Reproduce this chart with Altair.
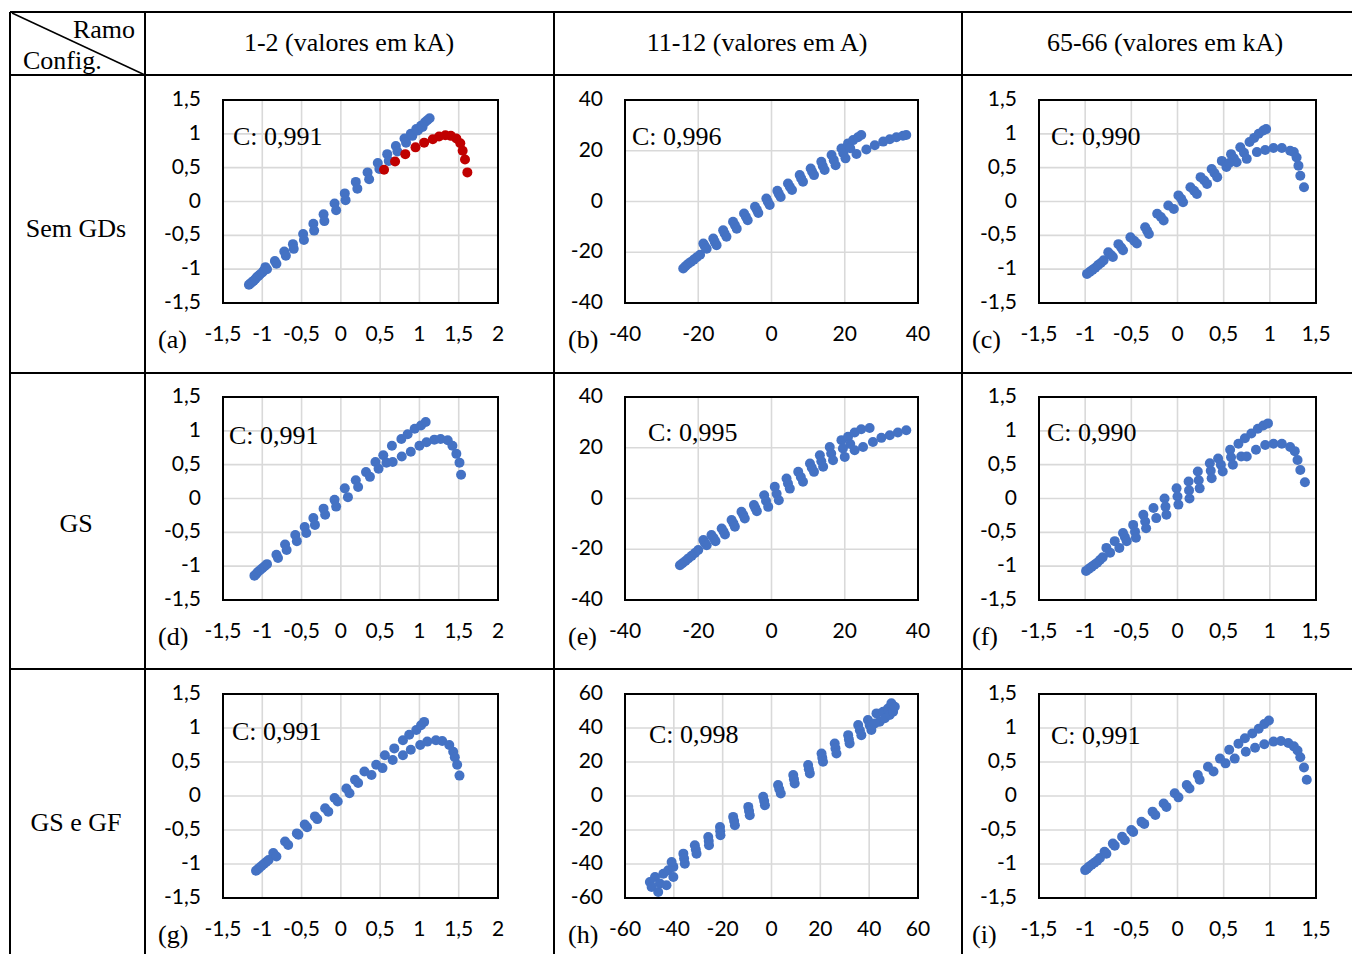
import altair as alt
import pandas as pd

# ---------------- data ----------------
COL_HEADERS = ["1-2 (valores em kA)", "11-12 (valores em A)", "65-66 (valores em kA)"]
ROW_HEADERS = ["Sem GDs", "GS", "GS e GF"]
CORNER_TOP = "Ramo"
CORNER_BOTTOM = "Config."
LETTERS = ["(a)", "(b)", "(c)", "(d)", "(e)", "(f)", "(g)", "(h)", "(i)"]
CORR = ["C: 0,991", "C: 0,996", "C: 0,990",
        "C: 0,991", "C: 0,995", "C: 0,990",
        "C: 0,991", "C: 0,998", "C: 0,991"]

TICKS_2 = [-1.5, -1, -0.5, 0, 0.5, 1, 1.5, 2]
LABELS_2 = ["-1,5", "-1", "-0,5", "0", "0,5", "1", "1,5", "2"]
TICKS_15 = [-1.5, -1, -0.5, 0, 0.5, 1, 1.5]
LABELS_15 = ["-1,5", "-1", "-0,5", "0", "0,5", "1", "1,5"]
TICKS_40 = [-40, -20, 0, 20, 40]
LABELS_40 = ["-40", "-20", "0", "20", "40"]
TICKS_60 = [-60, -40, -20, 0, 20, 40, 60]
LABELS_60 = ["-60", "-40", "-20", "0", "20", "40", "60"]

A_BLUE = [(-1.17, -1.23), (-1.15, -1.21), (-1.13, -1.19), (-1.11, -1.17), (-1.09, -1.15),
          (-1.07, -1.12), (-1.05, -1.10), (-1.03, -1.08), (-1.0, -1.05), (-0.98, -1.02),
          (-0.96, -0.97), (-0.94, -1.0), (-0.84, -0.88), (-0.82, -0.92), (-0.72, -0.74),
          (-0.70, -0.80), (-0.61, -0.63), (-0.60, -0.70), (-0.48, -0.48), (-0.47, -0.57),
          (-0.35, -0.33), (-0.34, -0.43), (-0.22, -0.19), (-0.21, -0.29), (-0.08, -0.03),
          (-0.06, -0.13), (0.05, 0.12), (0.06, 0.02), (0.19, 0.29), (0.21, 0.19),
          (0.34, 0.43), (0.36, 0.33), (0.47, 0.57), (0.49, 0.48), (0.59, 0.70),
          (0.61, 0.60), (0.70, 0.82), (0.72, 0.74), (0.81, 0.93), (0.83, 0.87),
          (0.89, 1.0), (0.91, 0.97), (0.96, 1.07), (0.98, 1.05), (1.02, 1.12),
          (1.04, 1.10), (1.07, 1.17), (1.10, 1.20), (1.13, 1.23)]
A_RED = [(0.55, 0.47), (0.69, 0.59), (0.82, 0.70), (0.95, 0.80), (1.06, 0.87), (1.17, 0.92),
         (1.25, 0.96), (1.33, 0.98), (1.40, 0.97), (1.47, 0.93), (1.52, 0.86), (1.55, 0.75),
         (1.58, 0.62), (1.61, 0.43)]

B_BLUE = [(-24.1, -26.4), (-23.5, -25.5), (-22.8, -24.6), (-22.0, -23.8), (-21.2, -22.9),
          (-20.4, -22.0), (-19.5, -21.0), (-18.6, -16.6), (-18.2, -17.6), (-17.7, -18.6),
          (-15.9, -14.6), (-15.5, -15.9), (-15.0, -17.2), (-13.2, -11.3), (-12.8, -12.6),
          (-12.3, -13.9), (-10.5, -8.0), (-10.0, -9.3), (-9.5, -10.7), (-7.5, -4.7),
          (-7.0, -6.0), (-6.5, -7.4), (-4.5, -2.1), (-4.0, -3.3), (-3.6, -4.5), (-1.4, 1.2),
          (-1.0, -0.1), (-0.5, -1.4), (1.6, 4.2), (2.0, 3.0), (2.5, 1.8), (4.5, 7.1),
          (5.0, 5.8), (5.6, 4.5), (7.7, 10.4), (8.1, 9.1), (8.6, 7.8), (10.7, 13.0),
          (11.1, 11.7), (11.6, 10.4), (13.6, 15.7), (14.0, 14.0), (14.5, 12.4), (16.4, 18.3),
          (17.0, 16.3), (17.5, 14.3), (19.1, 20.9), (19.6, 19.0), (20.2, 17.0), (20.9, 22.9),
          (21.5, 21.0), (22.3, 24.2), (23.6, 25.3), (24.5, 26.2), (23.2, 18.7), (25.9, 20.5),
          (28.2, 22.2), (30.5, 23.6), (32.3, 24.5), (34.1, 25.3), (35.9, 25.9), (36.8, 26.2)]

C_BLUE = [(-0.98, -1.07), (-0.95, -1.04), (-0.92, -1.01), (-0.89, -0.98), (-0.86, -0.94),
          (-0.83, -0.91), (-0.80, -0.87), (-0.75, -0.75), (-0.72, -0.79), (-0.70, -0.82),
          (-0.64, -0.63), (-0.61, -0.68), (-0.59, -0.72), (-0.51, -0.53), (-0.47, -0.58),
          (-0.44, -0.62), (-0.35, -0.38), (-0.33, -0.43), (-0.31, -0.48), (-0.22, -0.18),
          (-0.18, -0.23), (-0.15, -0.28), (-0.10, -0.06), (-0.04, -0.11), (0.01, 0.09),
          (0.04, 0.04), (0.06, -0.01), (0.14, 0.21), (0.18, 0.16), (0.21, 0.11), (0.25, 0.36),
          (0.29, 0.31), (0.32, 0.26), (0.37, 0.48), (0.40, 0.42), (0.43, 0.36), (0.48, 0.60),
          (0.53, 0.51), (0.58, 0.70), (0.61, 0.64), (0.64, 0.58), (0.56, 0.57), (0.68, 0.80),
          (0.72, 0.72), (0.75, 0.63), (0.78, 0.88), (0.83, 0.94), (0.88, 1.0), (0.93, 1.05),
          (0.96, 1.07), (0.86, 0.73), (0.95, 0.76), (1.04, 0.79), (1.13, 0.79), (1.22, 0.75),
          (1.26, 0.73), (1.29, 0.65), (1.31, 0.53), (1.33, 0.38), (1.37, 0.21)]

D_BLUE = [(-1.10, -1.14), (-1.08, -1.12), (-1.06, -1.09), (-1.03, -1.06), (-1.00, -1.03),
          (-0.97, -1.00), (-0.94, -0.97), (-0.82, -0.83), (-0.80, -0.88), (-0.71, -0.68),
          (-0.69, -0.76), (-0.58, -0.54), (-0.56, -0.63), (-0.46, -0.42), (-0.44, -0.51),
          (-0.35, -0.29), (-0.33, -0.39), (-0.22, -0.15), (-0.20, -0.24), (-0.08, -0.02),
          (-0.06, -0.12), (0.05, 0.15), (0.09, 0.02), (0.19, 0.27), (0.22, 0.17), (0.32, 0.39),
          (0.37, 0.32), (0.44, 0.54), (0.48, 0.44), (0.54, 0.64), (0.58, 0.53), (0.65, 0.78),
          (0.66, 0.54), (0.77, 0.88), (0.85, 0.95), (0.94, 1.03), (1.02, 1.08), (1.08, 1.13),
          (0.775, 0.62), (0.89, 0.69), (1.0, 0.78), (1.09, 0.83), (1.19, 0.87), (1.27, 0.88),
          (1.36, 0.86), (1.42, 0.78), (1.47, 0.66), (1.51, 0.53), (1.53, 0.35)]

E_BLUE = [(-25.0, -26.3), (-24.3, -25.5), (-23.5, -24.6), (-22.7, -23.6), (-21.8, -22.6),
          (-20.9, -21.5), (-20.0, -20.3), (-18.6, -16.4), (-18.2, -17.4), (-17.7, -18.4),
          (-16.4, -14.4), (-15.8, -15.6), (-15.3, -16.8), (-13.6, -11.8), (-13.1, -13.0),
          (-12.7, -14.2), (-10.9, -8.5), (-10.4, -9.8), (-10.0, -11.1), (-8.2, -5.2),
          (-7.7, -6.5), (-7.3, -7.9), (-4.8, -2.6), (-4.4, -3.8), (-4.0, -5.0), (-2.0, 1.3),
          (-1.5, -1.0), (-0.9, -3.3), (0.9, 4.6), (1.4, 1.9), (2.0, -0.7), (4.1, 7.9),
          (4.5, 5.9), (5.0, 3.9), (7.3, 10.5), (8.0, 8.5), (8.6, 6.6), (10.5, 13.8),
          (11.0, 12.1), (11.6, 10.5), (13.2, 17.0), (13.6, 14.7), (14.1, 12.5), (15.9, 20.3),
          (16.3, 17.7), (16.8, 15.1), (19.1, 23.0), (19.5, 19.7), (20.0, 16.4), (20.9, 24.3),
          (21.5, 21.5), (22.7, 26.0), (24.5, 27.3), (26.8, 27.8), (22.7, 19.0), (25.0, 20.3),
          (27.7, 22.3), (30.0, 23.9), (32.3, 24.9), (34.5, 26.0), (36.8, 26.9)]

F_BLUE = [(-0.99, -1.07), (-0.96, -1.04), (-0.93, -1.01), (-0.90, -0.98), (-0.87, -0.95),
          (-0.84, -0.91), (-0.81, -0.87), (-0.77, -0.73), (-0.73, -0.80), (-0.68, -0.63),
          (-0.63, -0.73), (-0.59, -0.51), (-0.57, -0.57), (-0.55, -0.63), (-0.48, -0.39),
          (-0.46, -0.49), (-0.45, -0.58), (-0.37, -0.24), (-0.35, -0.34), (-0.34, -0.44),
          (-0.26, -0.14), (-0.23, -0.29), (-0.14, 0.0), (-0.13, -0.12), (-0.12, -0.24),
          (-0.01, 0.15), (0.0, 0.03), (0.01, -0.09), (0.12, 0.25), (0.125, 0.12), (0.13, 0.0),
          (0.22, 0.40), (0.23, 0.27), (0.24, 0.15), (0.35, 0.52), (0.36, 0.41), (0.37, 0.30),
          (0.44, 0.59), (0.47, 0.50), (0.49, 0.40), (0.57, 0.72), (0.58, 0.61), (0.60, 0.50),
          (0.66, 0.81), (0.69, 0.62), (0.75, 0.62), (0.73, 0.89), (0.80, 0.96), (0.87, 1.03),
          (0.93, 1.08), (0.98, 1.11), (0.85, 0.72), (0.95, 0.79), (1.04, 0.81), (1.13, 0.81),
          (1.22, 0.76), (1.27, 0.70), (1.30, 0.57), (1.33, 0.42), (1.38, 0.24)]

G_BLUE = [(-1.08, -1.10), (-1.06, -1.08), (-1.04, -1.06), (-1.01, -1.03), (-0.98, -1.00),
          (-0.95, -0.97), (-0.92, -0.94), (-0.86, -0.84), (-0.82, -0.89), (-0.71, -0.67),
          (-0.67, -0.72), (-0.56, -0.55), (-0.54, -0.57), (-0.46, -0.42), (-0.43, -0.46),
          (-0.33, -0.30), (-0.30, -0.34), (-0.20, -0.18), (-0.16, -0.23), (-0.08, -0.03),
          (-0.04, -0.08), (0.07, 0.11), (0.11, 0.04), (0.18, 0.24), (0.22, 0.19), (0.30, 0.36),
          (0.39, 0.31), (0.45, 0.46), (0.53, 0.41), (0.56, 0.60), (0.66, 0.53), (0.68, 0.70),
          (0.79, 0.60), (0.79, 0.82), (0.87, 0.90), (0.96, 0.97), (1.02, 1.04), (1.06, 1.09),
          (0.89, 0.68), (1.01, 0.75), (1.10, 0.80), (1.21, 0.82), (1.29, 0.81), (1.38, 0.75),
          (1.43, 0.65), (1.45, 0.57), (1.48, 0.46), (1.51, 0.30)]

H_BLUE = [(-49.8, -50.6), (-49.1, -53.5), (-47.7, -47.6), (-46.4, -56.5), (-45.7, -51.5),
          (-44.3, -45.7), (-43.0, -52.5), (-42.3, -43.7), (-40.2, -41.7), (-40.2, -47.6),
          (-40.9, -38.8), (-36.1, -33.9), (-35.8, -36.8), (-35.5, -39.8), (-31.4, -29.0),
          (-31.0, -31.5), (-30.7, -33.9), (-25.9, -24.1), (-25.7, -26.5), (-25.6, -29.0),
          (-21.1, -18.2), (-21.0, -20.7), (-20.9, -23.1), (-15.7, -12.3), (-15.3, -14.7),
          (-15.0, -17.2), (-9.5, -6.4), (-9.2, -8.8), (-8.9, -11.3), (-3.4, -0.5),
          (-3.0, -3.0), (-2.7, -5.4), (2.7, 6.4), (3.2, 4.0), (3.8, 1.5), (8.9, 12.3),
          (9.2, 9.8), (9.5, 7.4), (15.0, 18.2), (15.3, 15.7), (15.7, 13.3), (20.5, 25.0),
          (20.8, 22.5), (21.1, 20.1), (25.9, 30.9), (26.2, 28.0), (26.6, 25.0), (31.4, 35.8),
          (31.7, 33.3), (32.0, 30.9), (35.5, 41.7), (36.2, 38.7), (36.8, 35.8), (39.5, 44.7),
          (40.2, 41.7), (40.9, 38.8), (43.0, 48.6), (44.3, 43.7), (45.7, 49.6), (46.4, 45.7),
          (47.7, 51.5), (48.4, 47.6), (49.1, 54.5), (49.8, 49.6), (50.5, 52.5), (42.3, 42.7)]

I_BLUE = [(-1.0, -1.09), (-0.98, -1.07), (-0.96, -1.04), (-0.93, -1.01), (-0.90, -0.98),
          (-0.87, -0.95), (-0.84, -0.91), (-0.79, -0.82), (-0.77, -0.85), (-0.70, -0.70),
          (-0.68, -0.73), (-0.60, -0.60), (-0.57, -0.65), (-0.50, -0.50), (-0.48, -0.53),
          (-0.39, -0.38), (-0.36, -0.41), (-0.27, -0.23), (-0.24, -0.28), (-0.15, -0.11),
          (-0.12, -0.16), (-0.03, 0.04), (0.01, -0.02), (0.10, 0.16), (0.13, 0.11), (0.22, 0.31),
          (0.24, 0.24), (0.33, 0.43), (0.39, 0.36), (0.46, 0.55), (0.52, 0.48), (0.56, 0.68),
          (0.62, 0.55), (0.66, 0.77), (0.74, 0.65), (0.73, 0.85), (0.81, 0.92), (0.88, 0.99),
          (0.94, 1.06), (0.99, 1.11), (0.84, 0.71), (0.94, 0.76), (1.04, 0.80), (1.12, 0.81),
          (1.20, 0.78), (1.26, 0.73), (1.30, 0.67), (1.33, 0.57), (1.37, 0.42), (1.40, 0.24)]

# ---------------- layout (page pixel coordinates) ----------------
OFF = 8
W, H = 1344, 946
BLUE = "#4472C4"
RED = "#C00000"
SERIF = "Liberation Serif"
SANS = "Lato"
DOT = 100

COLS = [(223, 498), (625, 918), (1039, 1316)]
ROWS = [(100, 303), (397, 600), (694, 898)]
LETTER_X = [158, 568, 972]
CORR_POS = [(233, 137), (632, 137), (1051, 137),
            (229, 436), (648, 433), (1047, 433),
            (232, 732), (649, 735), (1051, 736)]

SPECS = [
    (TICKS_2, LABELS_2, TICKS_15, LABELS_15, A_BLUE, A_RED),
    (TICKS_40, LABELS_40, TICKS_40, LABELS_40, B_BLUE, []),
    (TICKS_15, LABELS_15, TICKS_15, LABELS_15, C_BLUE, []),
    (TICKS_2, LABELS_2, TICKS_15, LABELS_15, D_BLUE, []),
    (TICKS_40, LABELS_40, TICKS_40, LABELS_40, E_BLUE, []),
    (TICKS_15, LABELS_15, TICKS_15, LABELS_15, F_BLUE, []),
    (TICKS_2, LABELS_2, TICKS_15, LABELS_15, G_BLUE, []),
    (TICKS_60, LABELS_60, TICKS_60, LABELS_60, H_BLUE, []),
    (TICKS_15, LABELS_15, TICKS_15, LABELS_15, I_BLUE, []),
]


def X(v):
    return v - OFF


def Y(v):
    return v - OFF


one = pd.DataFrame({"k": [0]})


def text_at(t, x, y, size=26, font=SERIF, align="center"):
    return alt.Chart(pd.DataFrame({"t": [t]})).mark_text(
        font=font, fontSize=size, align=align, baseline="middle", color="black"
    ).encode(text="t:N", x=alt.value(X(x)), y=alt.value(Y(y)))


def rule(x1, y1, x2, y2, w=2):
    return alt.Chart(one).mark_rule(color="black", strokeWidth=w).encode(
        x=alt.value(X(x1)), y=alt.value(Y(y1)), x2=alt.value(X(x2)), y2=alt.value(Y(y2)))


def panel(i):
    xt, xl, yt, yl, blue, red = SPECS[i]
    L, R = COLS[i % 3]
    T, B = ROWS[i // 3]
    xs = alt.Scale(domain=[xt[0], xt[-1]], range=[X(L), X(R)], nice=False, zero=False)
    ys = alt.Scale(domain=[yt[0], yt[-1]], range=[Y(B), Y(T)], nice=False, zero=False)
    xdf = pd.DataFrame({"v": xt, "lab": xl})
    ydf = pd.DataFrame({"v": yt, "lab": yl})
    ex = alt.X("v:Q", scale=xs, axis=None)
    ey = alt.Y("v:Q", scale=ys, axis=None)
    layers = [
        alt.Chart(xdf).mark_rule(color="#d9d9d9", strokeWidth=1.6).encode(
            x=ex, y=alt.value(Y(T)), y2=alt.value(Y(B))),
        alt.Chart(ydf).mark_rule(color="#d9d9d9", strokeWidth=1.6).encode(
            y=ey, x=alt.value(X(L)), x2=alt.value(X(R))),
    ]
    bdf = pd.DataFrame({"x": [p[0] for p in blue], "y": [p[1] for p in blue]})
    layers.append(alt.Chart(bdf).mark_circle(size=DOT, color=BLUE, opacity=1).encode(
        x=alt.X("x:Q", scale=xs, axis=None), y=alt.Y("y:Q", scale=ys, axis=None)))
    if red:
        rdf = pd.DataFrame({"x": [p[0] for p in red], "y": [p[1] for p in red]})
        layers.append(alt.Chart(rdf).mark_circle(size=DOT, color=RED, opacity=1).encode(
            x=alt.X("x:Q", scale=xs, axis=None), y=alt.Y("y:Q", scale=ys, axis=None)))
    layers.append(alt.Chart(one).mark_rect(fillOpacity=0, stroke="black", strokeWidth=2).encode(
        x=alt.value(X(L)), x2=alt.value(X(R)), y=alt.value(Y(T)), y2=alt.value(Y(B))))
    layers.append(alt.Chart(xdf).mark_text(font=SANS, fontSize=21, color="#000000",
                                           align="center", baseline="middle").encode(
        x=ex, y=alt.value(Y(B + 32)), text="lab:N"))
    layers.append(alt.Chart(ydf).mark_text(font=SANS, fontSize=21, color="#000000",
                                           align="right", baseline="middle").encode(
        y=ey, x=alt.value(X(L - 22)), text="lab:N"))
    cx, cy = CORR_POS[i]
    layers.append(text_at(CORR[i], cx, cy, align="left"))
    layers.append(text_at(LETTERS[i], LETTER_X[i % 3], B + 37, align="left"))
    return alt.layer(*layers)


table = [
    rule(10, 12, 1352, 12),
    rule(10, 75, 1352, 75),
    rule(10, 373, 1352, 373),
    rule(10, 669, 1352, 669),
    rule(10, 12, 10, 954),
    rule(145, 12, 145, 954),
    rule(554, 12, 554, 954),
    rule(962, 12, 962, 954),
    rule(12, 13, 145, 75, w=1.5),
    text_at(CORNER_TOP, 135, 30, align="right"),
    text_at(CORNER_BOTTOM, 23, 61, align="left"),
    text_at(COL_HEADERS[0], 349, 43),
    text_at(COL_HEADERS[1], 757, 43),
    text_at(COL_HEADERS[2], 1165, 43),
    text_at(ROW_HEADERS[0], 76, 229),
    text_at(ROW_HEADERS[1], 76, 524),
    text_at(ROW_HEADERS[2], 76, 823),
]

chart = alt.layer(*table, *[panel(i) for i in range(9)]).resolve_scale(
    x="independent", y="independent"
).properties(width=W, height=H, padding=0, autosize="none").configure_view(stroke=None)

chart.save("out.html", embed_options={"renderer": "svg", "actions": False})
